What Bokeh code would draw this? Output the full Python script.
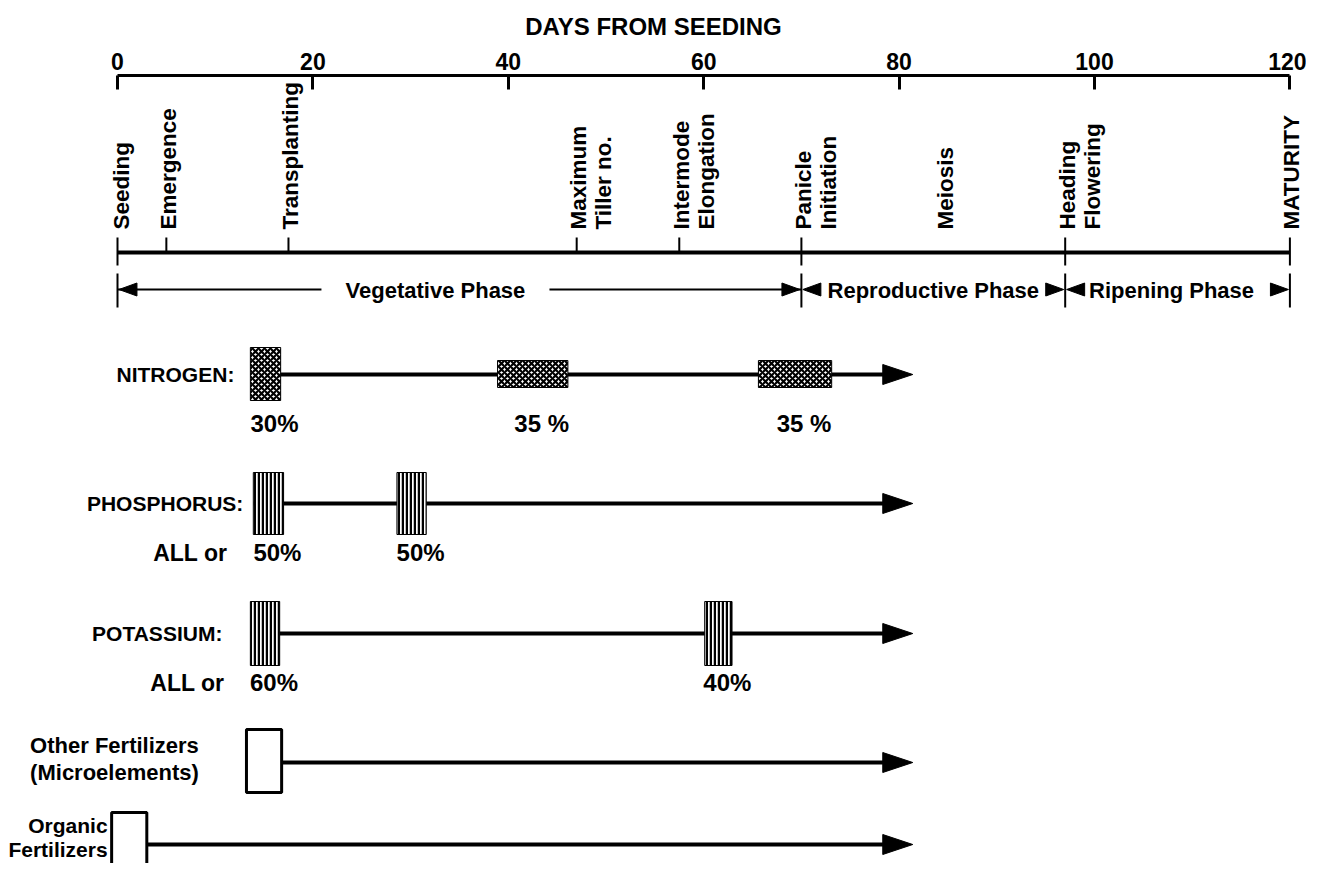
import math
from bokeh.plotting import figure
from bokeh.models import Range1d, FixedTicker
from bokeh.core.properties import value
from bokeh.embed import file_html
from bokeh.resources import INLINE

# ---------------- data ----------------
day_ticks = [0, 20, 40, 60, 80, 100, 120]
axis_title = "DAYS FROM SEEDING"

stage_lines = [["Seeding"], ["Emergence"], ["Transplanting"], ["Maximum", "Tiller no."],
               ["Intermode", "Elongation"], ["Panicle", "Initiation"], ["Meiosis"],
               ["Heading", "Flowering"], ["MATURITY"]]
stage_days = [0, 5, 17.5, 47, 57.5, 70, 84.5, 97, 120]
stage_marked = [True, True, True, True, True, True, False, True, True]

phase_names = ["Vegetative Phase", "Reproductive Phase", "Ripening Phase"]
phase_start = [0, 70, 97]
phase_end = [70, 97, 120]

fert_names = [["NITROGEN:"], ["PHOSPHORUS:"], ["POTASSIUM:"],
              ["Other Fertilizers", "(Microelements)"], ["Organic", "Fertilizers"]]
n_start = [13.6, 38.9, 65.6]
n_end = [16.7, 46.1, 73.1]
n_pct = ["30%", "35 %", "35 %"]
p_start = [13.9, 28.6]
p_end = [17.0, 31.6]
p_pct = ["50%", "50%"]
k_start = [13.6, 60.1]
k_end = [16.6, 62.9]
k_pct = ["60%", "40%"]
o_start = [13.2]
o_end = [16.8]
g_start = [-0.6]
g_end = [3.0]
arrow_tip_day = 81.4
prefix_all = [None, "ALL or", "ALL or", None, None]

# ---------------- layout ----------------
W, H = 1306, 863
TOP = 75
X0 = 125.0 - 8          # canvas x of day 0
PPD = 9.77              # pixels per day
x_lo = (0 - X0) / PPD
x_hi = (W - X0) / PPD
FONT = value("Liberation Sans")

p = figure(width=W, height=H, output_backend="svg", toolbar_location=None,
           x_range=Range1d(x_lo, x_hi), y_range=Range1d(871, 83),
           x_axis_location="above", y_axis_location=None,
           min_border_left=0, min_border_right=0, min_border_bottom=0, min_border_top=TOP)
p.outline_line_color = None
p.grid.visible = False
p.background_fill_color = "white"

ax = p.xaxis[0]
ax.ticker = FixedTicker(ticks=day_ticks)
ax.bounds = (day_ticks[0], day_ticks[-1])
ax.axis_line_width = 3
ax.major_tick_in = 14
ax.major_tick_out = 0
ax.major_tick_line_width = 3
ax.minor_tick_line_color = None
ax.major_label_text_font = "Liberation Sans"
ax.major_label_text_font_style = "bold"
ax.major_label_text_font_size = "23px"
ax.major_label_text_color = "black"
ax.major_label_standoff = 6
ax.axis_label = axis_title
ax.axis_label_text_font = "Liberation Sans"
ax.axis_label_text_font_style = "bold"
ax.axis_label_text_font_size = "24px"
ax.axis_label_text_color = "black"
ax.axis_label_standoff = 10

def tri(tip, y, direction, length, half):
    b = tip - direction * length / PPD
    return [tip, b, b], [y, y - half, y + half]

# ---------------- stages ----------------
BASE_Y = 260
sx, sy, st, so = [], [], [], []
for d, lines in zip(stage_days, stage_lines):
    for j, t in enumerate(lines):
        sx.append(d); sy.append(237); st.append(t)
        so.append(2 + 25 * j if len(lines) > 1 else (4 if d == 0 else 2))
p.text(x=sx, y=sy, text=st, x_offset=so, angle=math.pi / 2, text_align="left",
       text_baseline="middle", text_font=FONT, text_font_style="bold",
       text_font_size="22.5px", text_color="black")
p.segment(x0=[stage_days[0]], y0=[BASE_Y], x1=[stage_days[-1]], y1=[BASE_Y],
          line_width=4, line_color="black")
bounds = sorted(set(phase_start + phase_end))
tx0, ty0, tx1, ty1 = [], [], [], []
for d, m in zip(stage_days, stage_marked):
    if not m:
        continue
    tx0.append(d); tx1.append(d); ty0.append(245)
    ty1.append(273 if d in bounds else BASE_Y)
p.segment(x0=tx0, y0=ty0, x1=tx1, y1=ty1, line_width=2, line_color="black")

# ---------------- phases ----------------
PH_Y = 297
p.segment(x0=bounds, y0=[281] * len(bounds), x1=bounds, y1=[315] * len(bounds),
          line_width=2, line_color="black")
label_dx = [-24, 0, -6]
hx, hy = [], []
lx0, lx1 = [], []
for name, s, e, dx in zip(phase_names, phase_start, phase_end, label_dx):
    c = (s + e) / 2 + dx / PPD
    hw = len(name) * 6.0 / PPD + 18 / PPD
    if c - hw > s + 18 / PPD:
        lx0.append(s); lx1.append(c - hw)
    if c + hw < e - 18 / PPD:
        lx0.append(c + hw); lx1.append(e)
    a, b = tri(s + 0.15, PH_Y, -1, 18, 6.5); hx.append(a); hy.append(b)
    a, b = tri(e - 0.15, PH_Y, 1, 18, 6.5); hx.append(a); hy.append(b)
p.segment(x0=lx0, y0=[PH_Y] * len(lx0), x1=lx1, y1=[PH_Y] * len(lx1),
          line_width=2, line_color="black")
p.patches(xs=hx, ys=hy, fill_color="black", line_color="black", line_width=1)
p.text(x=[(s + e) / 2 for s, e in zip(phase_start, phase_end)], y=[PH_Y + 1] * 3,
       text=phase_names, x_offset=label_dx, text_align="center", text_baseline="middle",
       text_font=FONT, text_font_style="bold", text_font_size="22px", text_color="black")

# ---------------- fertilizer rows ----------------
ROW_Y = [382, 511, 641, 770, 852]
BOX_H = [[(-27, 26), (-14, 13), (-14, 13)], [(-31, 31), (-31, 31)], [(-32, 32), (-32, 32)],
         [(-33, 30)], [(-32, 40)]]
starts = [n_start, p_start, k_start, o_start, g_start]
ends = [n_end, p_end, k_end, o_end, g_end]
pcts = [n_pct, p_pct, k_pct, [], []]
stripe = dict(fill_color="white", hatch_pattern="vertical_line", hatch_scale=4,
              hatch_weight=2.5, hatch_color="black", line_color="black", line_width=1)
styles = [dict(fill_color="white", hatch_pattern="diagonal_cross", hatch_scale=6,
               hatch_weight=2.2, hatch_color="black", line_color="black", line_width=1),
          stripe, stripe,
          dict(fill_color="white", line_color="black", line_width=3),
          dict(fill_color="white", line_color="black", line_width=3)]

# shafts and arrowheads
ax_, ay_ = [], []
for y in ROW_Y:
    a, b = tri(arrow_tip_day, y, 1, 30, 10); ax_.append(a); ay_.append(b)
p.segment(x0=[s[0] for s in starts], y0=ROW_Y,
          x1=[arrow_tip_day - 25 / PPD] * len(ROW_Y), y1=ROW_Y,
          line_width=4, line_color="black")
p.patches(xs=ax_, ys=ay_, fill_color="black", line_color="black", line_width=1)

# boxes
for y, s, e, hs, sty in zip(ROW_Y, starts, ends, BOX_H, styles):
    p.quad(left=s, right=e, top=[y + h[0] for h in hs], bottom=[y + h[1] for h in hs], **sty)

# percentage labels
px_, py_, pt_ = [], [], []
for y, s, e, pc in zip(ROW_Y, starts, ends, pcts):
    for a, b, t in zip(s, e, pc):
        px_.append((a + b) / 2); py_.append(y + 49); pt_.append(t)
p.text(x=px_, y=py_, text=pt_, x_offset=9, text_align="center", text_baseline="middle",
       text_font=FONT, text_font_style="bold", text_font_size="24px", text_color="black")

# "ALL or"
ax2, ay2, at2 = [], [], []
for y, s, pre in zip(ROW_Y, starts, prefix_all):
    if pre:
        ax2.append(s[0]); ay2.append(y + 49); at2.append(pre)
p.text(x=ax2, y=ay2, text=at2, x_offset=-26, text_align="right", text_baseline="middle",
       text_font=FONT, text_font_style="bold", text_font_size="23px", text_color="black")

# row names
name_dx = [-16, -10, -28]
for i in range(3):
    p.text(x=[starts[i][0]], y=[ROW_Y[i]], text=fert_names[i], x_offset=name_dx[i],
           text_align="right", text_baseline="middle", text_font=FONT,
           text_font_style="bold", text_font_size="21px", text_color="black")
p.text(x=[starts[3][0]] * 2, y=[753, 780], text=fert_names[3], x_offset=-132,
       text_align="center", text_baseline="middle", text_font=FONT,
       text_font_style="bold", text_font_size="22px", text_color="black")
p.text(x=[starts[4][0]] * 2, y=[833, 857], text=fert_names[4], x_offset=-4,
       text_align="right", text_baseline="middle", text_font=FONT,
       text_font_style="bold", text_font_size="21px", text_color="black")

open("out.html", "w").write(file_html(p, INLINE))
